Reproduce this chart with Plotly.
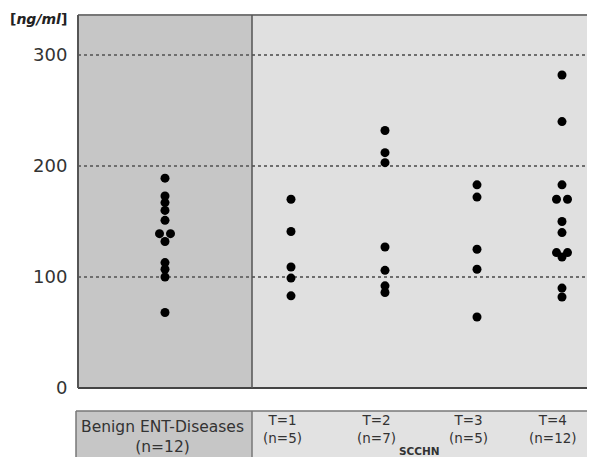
import plotly.graph_objects as go

# ---- data ----
groups = ["Benign", "T1", "T2", "T3", "T4"]
benign = [189, 173, 167, 160, 151, 139, 139, 132, 113, 107, 100, 68]
t1 = [170, 141, 109, 99, 83]
t2 = [232, 212, 203, 127, 106, 92, 86]
t3 = [183, 172, 125, 107, 64]
t4 = [282, 240, 183, 170, 170, 150, 140, 122, 122, 118, 90, 82]
values = [benign, t1, t2, t3, t4]
y_ticks = [0, 100, 200, 300]
y_unit = "<b>[<i>ng/ml</i>]</b>"
label_benign = ["Benign ENT-Diseases", "(n=12)"]
label_t = ["T=1", "T=2", "T=3", "T=4"]
label_n = ["(n=5)", "(n=7)", "(n=5)", "(n=12)"]
label_scchn = "SCCHN"

# ---- layout constants (pixel-based, page body has an 8px margin) ----
OFF = 8
W, H = 595 - OFF, 457 - OFF
L, R, T, B = 78 - OFF, 0, 15 - OFF, 69
PW = W - L - R
PH = H - T - B
group_x = [87, 213, 307, 399, 484]        # x position of each column (axis units = px)
divider_x = 174
x_max = PW
y_max = 336
dup_offset = 5.5

def px(x):  # window pixel x -> paper
    return (x - OFF - L) / PW

def py(y):  # window pixel y -> paper
    return (H - B - (y - OFF)) / PH

fig = go.Figure()
xs, ys = [], []
for gx, vals in zip(group_x, values):
    counts = {}
    for v in vals:
        counts[v] = counts.get(v, 0) + 1
    seen = {}
    for v in vals:
        n = counts[v]
        k = seen.get(v, 0)
        seen[v] = k + 1
        off = (k - (n - 1) / 2) * 2 * dup_offset if n > 1 else 0
        xs.append(gx + off)
        ys.append(v)

fig.add_trace(go.Scatter(
    x=xs, y=ys, mode="markers",
    marker=dict(size=9, color="black", line=dict(width=0)),
    hoverinfo="y", showlegend=False,
))

shapes = []
# backgrounds
shapes.append(dict(type="rect", xref="x", yref="paper", x0=0, x1=divider_x, y0=0, y1=1,
                   fillcolor="#c6c6c6", line=dict(width=0), layer="below"))
shapes.append(dict(type="rect", xref="x", yref="paper", x0=divider_x, x1=x_max, y0=0, y1=1,
                   fillcolor="#e0e0e0", line=dict(width=0), layer="below"))
# plot borders
shapes.append(dict(type="line", xref="paper", yref="paper", x0=0, x1=1, y0=1, y1=1,
                   line=dict(color="#777777", width=2)))
shapes.append(dict(type="line", xref="paper", yref="paper", x0=0, x1=1, y0=0, y1=0,
                   line=dict(color="#444444", width=2)))
shapes.append(dict(type="line", xref="paper", yref="paper", x0=0, x1=0, y0=0, y1=1,
                   line=dict(color="#555555", width=2)))
shapes.append(dict(type="line", xref="paper", yref="paper", x0=divider_x / x_max, x1=divider_x / x_max, y0=0, y1=1,
                   line=dict(color="#555555", width=1.5)))
# bottom table
tab_top = py(411)
tab_bot = py(457 + 2)
tab_left = px(76)
shapes.append(dict(type="rect", xref="paper", yref="paper", x0=tab_left, x1=divider_x / x_max, y0=tab_bot, y1=tab_top,
                   fillcolor="#c6c6c6", line=dict(width=0)))
shapes.append(dict(type="rect", xref="paper", yref="paper", x0=divider_x / x_max, x1=1.01, y0=tab_bot, y1=tab_top,
                   fillcolor="#e2e2e2", line=dict(width=0)))
shapes.append(dict(type="line", xref="paper", yref="paper", x0=tab_left, x1=1.01, y0=tab_top, y1=tab_top,
                   line=dict(color="#777777", width=1.5)))
shapes.append(dict(type="line", xref="paper", yref="paper", x0=tab_left, x1=tab_left, y0=tab_bot, y1=tab_top,
                   line=dict(color="#777777", width=1.5)))
shapes.append(dict(type="line", xref="paper", yref="paper", x0=divider_x / x_max, x1=divider_x / x_max, y0=tab_bot, y1=tab_top,
                   line=dict(color="#777777", width=1.5)))

font_family = "DejaVu Sans, Verdana, sans-serif"
ann = []
ann.append(dict(text=y_unit, xref="paper", yref="paper", x=px(8), y=py(19), xanchor="left", yanchor="middle",
                showarrow=False, font=dict(family=font_family, size=14, color="#222222")))
ann.append(dict(text="<br>".join(label_benign), xref="paper", yref="paper", x=px(162), y=py(437),
                xanchor="center", yanchor="middle", showarrow=False,
                font=dict(family=font_family, size=15.5, color="#333333")))
label_x = [g - 9 for g in group_x[1:]]
for lx, t_, n_ in zip(label_x, label_t, label_n):
    ann.append(dict(text=t_ + "<br>" + n_, xref="paper", yref="paper", x=px(78 + lx), y=py(429),
                    xanchor="center", yanchor="middle", showarrow=False,
                    font=dict(family=font_family, size=13.5, color="#333333")))
ann.append(dict(text="<b>" + label_scchn + "</b>", xref="paper", yref="paper", x=px(419), y=py(450.5),
                xanchor="center", yanchor="middle", showarrow=False,
                font=dict(family=font_family, size=10.5, color="#333333")))

fig.update_layout(
    width=W, height=H,
    margin=dict(l=L, r=R, t=T, b=B, pad=0),
    paper_bgcolor="white", plot_bgcolor="rgba(0,0,0,0)",
    shapes=shapes, annotations=ann,
    xaxis=dict(range=[0, x_max], showgrid=False, zeroline=False, showticklabels=False, showline=False,
               fixedrange=True),
    yaxis=dict(range=[0, y_max], tickvals=y_ticks, ticktext=[str(v) for v in y_ticks],
               showgrid=True, gridcolor="#6e6e6e", gridwidth=1.5, griddash="3px,3px",
               zeroline=False, showline=False, ticks="outside", ticklen=6, tickcolor="rgba(0,0,0,0)",
               tickfont=dict(family=font_family, size=18, color="#333333"), fixedrange=True),
    font=dict(family=font_family),
)

fig.write_html("out.html")
